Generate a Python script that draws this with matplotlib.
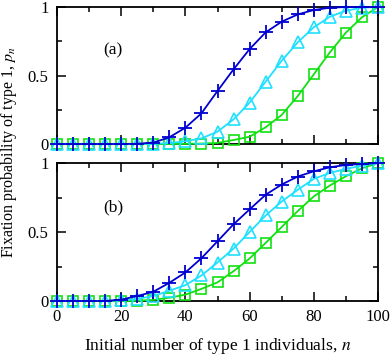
import numpy as np
import matplotlib
matplotlib.use('Agg')
import matplotlib.pyplot as plt

plt.rcParams['font.family'] = 'Liberation Serif'
plt.rcParams['mathtext.fontset'] = 'stix'

# данные: n через 5
n = np.arange(0, 101, 5)

# (a)
pa_blue = [0, 0, 0, 0, 0, 0.002, 0.01, 0.049, 0.119, 0.224, 0.387, 0.545, 0.693,
           0.815, 0.893, 0.946, 0.978, 0.995, 1.0, 1.0, 1.0]
pa_cyan = [0, 0, 0, 0, 0, 0, 0.001, 0.007, 0.02, 0.041, 0.090, 0.180, 0.302,
           0.455, 0.608, 0.742, 0.852, 0.929, 0.973, 0.995, 1.0]
pa_green = [0, 0, 0, 0, 0, 0, 0, 0, 0.001, 0.003, 0.008, 0.029, 0.053,
            0.122, 0.212, 0.350, 0.509, 0.669, 0.813, 0.925, 1.0]

# (b)
pb_blue = [0, 0, 0, 0, 0.01, 0.036, 0.067, 0.132, 0.207, 0.31, 0.433, 0.556, 0.664,
           0.770, 0.844, 0.902, 0.940, 0.969, 0.986, 0.993, 1.0]
pb_cyan = [0, 0, 0, 0, 0.005, 0.015, 0.036, 0.074, 0.115, 0.185, 0.279, 0.380, 0.500,
           0.620, 0.721, 0.806, 0.885, 0.928, 0.957, 0.981, 1.0]
pb_green = [0, 0, 0, 0, 0, 0.002, 0.008, 0.024, 0.046, 0.088, 0.135, 0.216, 0.308,
            0.421, 0.536, 0.652, 0.758, 0.837, 0.904, 0.962, 1.0]

blue = '#0000d0'
cyan = '#20e0ff'
green = '#10e010'

fig = plt.figure(figsize=(3.92, 3.56), dpi=100)
ax1 = fig.add_axes([0.1454, 0.5955, 0.8189, 0.3848])
ax2 = fig.add_axes([0.1454, 0.1545, 0.8189, 0.3876])

for ax, pb, pc, pg, lab in [(ax1, pa_blue, pa_cyan, pa_green, '(a)'),
                            (ax2, pb_blue, pb_cyan, pb_green, '(b)')]:
    ax.plot(n, pg, color=green, lw=1.3, marker='s', ms=7, mfc='none', mew=1.2, clip_on=False, zorder=3)
    ax.plot(n, pc, color=cyan, lw=1.3, marker='^', ms=8, mfc='none', mew=1.2, clip_on=False, zorder=4)
    ax.plot(n, pb, color=blue, lw=1.3, marker='+', ms=10, mew=1.3, clip_on=False, zorder=5)
    ax.set_xlim(0, 100)
    ax.set_ylim(0, 1)
    ax.set_xticks(np.arange(0, 101, 20))
    ax.set_xticks(np.arange(10, 100, 20), minor=True)
    ax.set_yticks([0, 0.5, 1])
    ax.set_yticklabels(['0', '0.5', '1'])
    ax.set_yticks([0.25, 0.75], minor=True)
    ax.tick_params(which='both', direction='in', top=True, right=True, width=1.1,
                   labelsize=12, pad=6)
    ax.tick_params(which='major', length=6.5)
    ax.tick_params(which='minor', length=3.6)
    for s in ax.spines.values():
        s.set_linewidth(1.3)
    ax.text(0.175, 0.68, lab, transform=ax.transAxes, fontsize=12.5, ha='center', va='center')

ax1.set_xticklabels([])
ax2.set_xlabel('Initial number of type 1 individuals, $n$', fontsize=12.6, labelpad=8)
fig.text(0.024, 0.574, 'Fixation probability of type 1, $p_n$', rotation=90,
         fontsize=11.5, ha='center', va='center')

plt.savefig('out.png')
